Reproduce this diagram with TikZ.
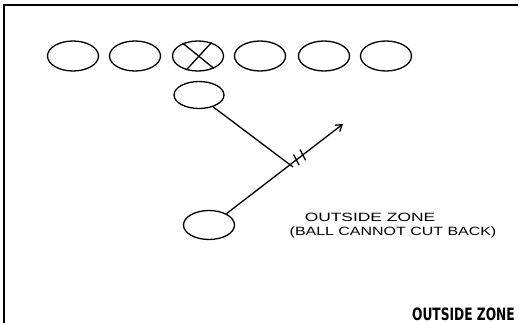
\documentclass[tikz,border=0pt]{standalone}
\usepackage{fontspec}
\setmainfont{Liberation Sans}
\newfontfamily\hand{Liberation Sans}
\newfontfamily\titlefont{DejaVu Sans Condensed}
\usetikzlibrary{shapes.geometric,arrows.meta,calc}
\begin{document}
\begin{tikzpicture}[x=1pt,y=-1pt,
  player/.style={draw,ellipse,line width=1.3pt,inner sep=0pt,
                 minimum width=51pt,minimum height=30pt},
  route/.style={line width=1.3pt},
  note/.style={inner sep=0pt,anchor=center,font=\hand\fontsize{12}{12}\selectfont}]
  \useasboundingbox (0,0) rectangle (519,323);
  % frame edges
  \draw[line width=1.4pt] (4,323) -- (4,5) -- (518,5);

  % offensive line
  \node[player] (lt) at (73,56) {};
  \node[player] (lg) at (135,56) {};
  \node[player] (c)  at (198,56) {};
  \node[player] (rg) at (260,56) {};
  \node[player] (rt) at (324,56) {};
  \node[player] (te) at (386,56) {};
  \draw[route] (c.140) -- (c.-38);
  \draw[route] (c.45) -- (c.-130);

  % quarterback and running back
  \node[player,minimum width=50pt,minimum height=27pt] (qb) at (199,95) {};
  \node[player,minimum height=29pt] (rb) at (209,225) {};

  % handoff mesh point and run path
  \coordinate (meet) at (293,167);
  \coordinate (tip) at (343,124);
  \draw[route] (qb.-40) -- (meet);
  \draw[route,-{Straight Barb[length=6pt,width=8pt]}] (rb.33) -- (tip);
  \coordinate (m1) at ($(rb.33)!0.6!(tip)$);
  \coordinate (m2) at ($(rb.33)!0.655!(tip)$);
  \draw[route] ($(m1)!6pt!80:(tip)$) -- ($(m1)!6pt!-100:(tip)$);
  \draw[route] ($(m2)!6pt!80:(tip)$) -- ($(m2)!6pt!-100:(tip)$);

  % notes
  \node[note] (n1) at (370,217.5) {\scalebox{1.45}[1]{OUTSIDE ZONE}};
  \node[note] (n2) at (393,232) {\scalebox{1.33}[1]{(BALL CANNOT CUT BACK)}};
  \node[inner sep=0pt,anchor=base east] (title) at (515,320)
    {\titlefont\bfseries\fontsize{17}{17}\selectfont\scalebox{0.8}[1]{OUTSIDE ZONE}};
\end{tikzpicture}
\end{document}
